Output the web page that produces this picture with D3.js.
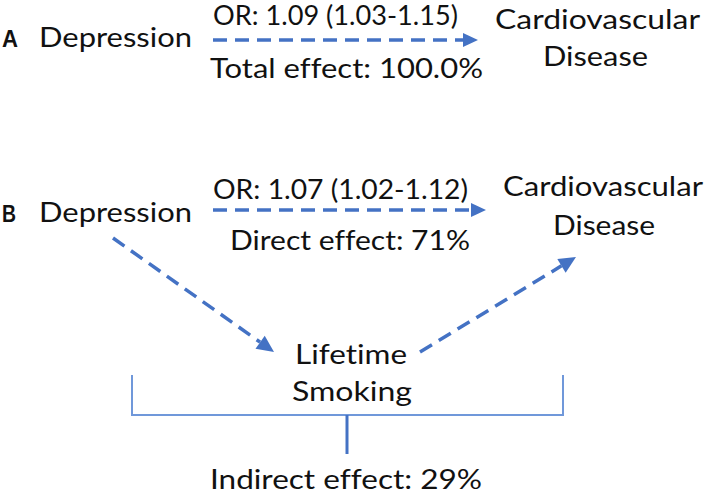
<!DOCTYPE html>
<html><head><meta charset="utf-8">
<script src="https://cdn.jsdelivr.net/npm/d3@7"></script>
<style>html,body{margin:0;padding:0;background:#fff} text{font-variant-ligatures:none;font-feature-settings:"liga" 0}</style>
</head><body>
<svg id="c" width="709" height="494"></svg>
<script>
// ---- data ----
const panelLabels = ["A", "B"];
const exposure = "Depression";
const outcomeLines = ["Cardiovascular", "Disease"];
const mediatorLines = ["Lifetime", "Smoking"];
const orLabels = ["OR: 1.09 (1.03-1.15)", "OR: 1.07 (1.02-1.12)"];
const effectLabels = ["Total effect: 100.0%", "Direct effect: 71%"];
const indirectLabel = "Indirect effect: 29%";

const blue = "#4472C4", lightBlue = "#7098DA";
const svg = d3.select("#c");
const font = "Lato, 'Open Sans', sans-serif";

function txt(s, x, y, w, opts = {}) {
  const t = svg.append("text").attr("x", x).attr("y", y)
    .attr("font-family", opts.family || font)
    .attr("font-size", opts.size || 27)
    .attr("font-weight", opts.weight || "normal")
    .attr("fill", "#111").text(s);
  if (w) t.attr("textLength", w).attr("lengthAdjust", "spacingAndGlyphs");
  return t;
}
function arrow(x1, y1, x2, y2, head = 15, hw = 7) {
  const a = Math.atan2(y2 - y1, x2 - x1);
  const bx = x2 - head * Math.cos(a), by = y2 - head * Math.sin(a);
  svg.append("line").attr("x1", x1).attr("y1", y1).attr("x2", bx).attr("y2", by)
    .attr("stroke", blue).attr("stroke-width", 3.5).attr("stroke-dasharray", "14 8");
  const px = -Math.sin(a) * hw, py = Math.cos(a) * hw;
  svg.append("path")
    .attr("d", `M${x2},${y2}L${bx + px},${by + py}L${bx - px},${by - py}Z`)
    .attr("fill", blue);
}
const bold = {family: "Liberation Sans, Arial, sans-serif", weight: "bold", size: 24};

// Panel A
txt(panelLabels[0], 2, 47, 16, bold);
txt(exposure, 39, 47, 153);
txt(orLabels[0], 213, 25, 245, {size: 26});
arrow(213, 40, 478, 40);
txt(effectLabels[0], 210, 78, 273);
txt(outcomeLines[0], 495, 29, 205);
txt(outcomeLines[1], 543, 66, 105);

// Panel B
txt(panelLabels[1], 2, 222, 14, bold);
txt(exposure, 39, 222, 153);
txt(orLabels[1], 213, 199, 255);
arrow(213, 210, 486, 210);
txt(effectLabels[1], 230, 250, 240);
txt(outcomeLines[0], 503, 196, 200);
txt(outcomeLines[1], 553, 235, 102);
txt(mediatorLines[0], 295, 364, 112);
txt(mediatorLines[1], 292, 401, 120);
arrow(113, 238, 274, 352, 17, 8);
arrow(420, 352, 576, 257, 17, 8);

// bracket
svg.append("path").attr("d", "M132,375V415H563V375")
  .attr("fill", "none").attr("stroke", lightBlue).attr("stroke-width", 2);
svg.append("line").attr("x1", 347).attr("y1", 415).attr("x2", 347).attr("y2", 454)
  .attr("stroke", blue).attr("stroke-width", 3);
txt(indirectLabel, 210, 489, 272);
</script>
</body></html>
